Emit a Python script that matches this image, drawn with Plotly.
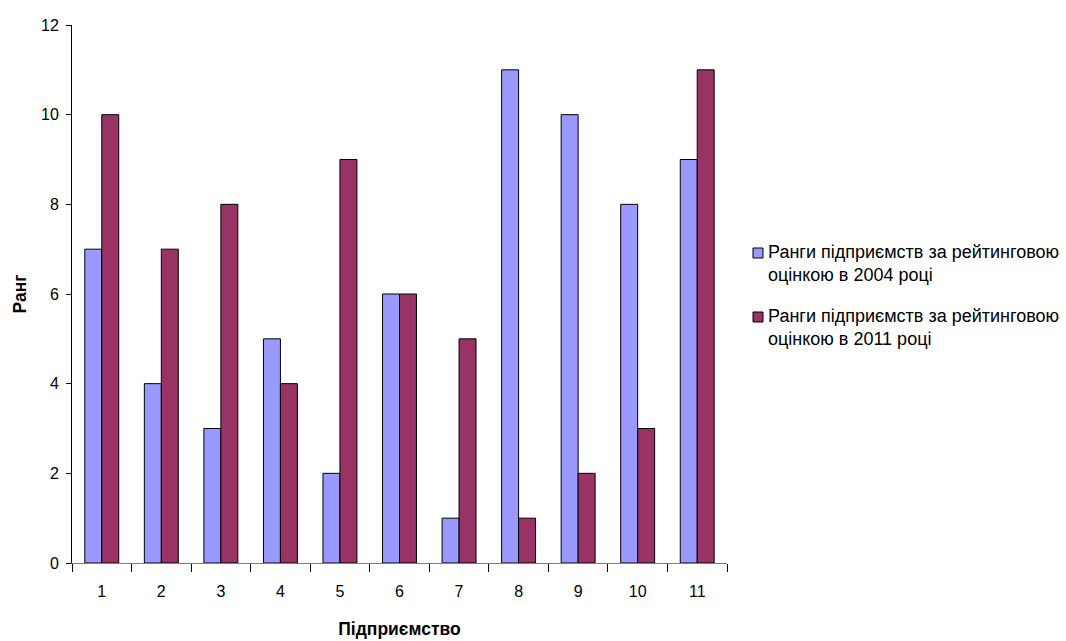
import plotly.graph_objects as go

enterprises = ["1", "2", "3", "4", "5", "6", "7", "8", "9", "10", "11"]
rank_2004 = [7, 4, 3, 5, 2, 6, 1, 11, 10, 8, 9]
rank_2011 = [10, 7, 8, 4, 9, 6, 5, 1, 2, 3, 11]

name_2004 = "Ранги підприємств за рейтинговою<br>оцінкою в 2004 році"
name_2011 = "Ранги підприємств за рейтинговою<br>оцінкою в 2011 році"

colors = ["#9999FF", "#993366"]
FONT = "Liberation Sans, Arial, sans-serif"

W, H = 1066, 641
ML, MR, MT, MB = 72, 339, 25, 78
PW, PH = W - ML - MR, H - MT - MB


def px_x(x):
    return (x - ML) / PW


def px_y(y):
    return (H - MB - y) / PH


fig = go.Figure()
for vals, name, col in [(rank_2004, name_2004, colors[0]), (rank_2011, name_2011, colors[1])]:
    fig.add_trace(go.Bar(
        x=enterprises, y=vals, name=name, showlegend=False,
        marker=dict(color=col, line=dict(color="#000000", width=1)),
    ))

# Legend drawn as boxes + wrapped labels to the right of the plot
shapes, annotations = [], []
for i, (name, col) in enumerate(zip([name_2004, name_2011], colors)):
    cy = 253 + 64 * i
    shapes.append(dict(
        type="rect", xref="paper", yref="paper",
        x0=px_x(753), x1=px_x(763), y0=px_y(cy + 5), y1=px_y(cy - 5),
        fillcolor=col, line=dict(color="#000000", width=1),
    ))
    annotations.append(dict(
        xref="paper", yref="paper", x=px_x(766), y=px_y(cy - 13),
        xanchor="left", yanchor="top", align="left", showarrow=False,
        text=name, font=dict(family=FONT, size=18, color="#000000"),
    ))

fig.update_layout(
    width=W, height=H,
    margin=dict(l=ML, r=MR, t=MT, b=MB),
    paper_bgcolor="white", plot_bgcolor="white",
    font=dict(family=FONT, size=16, color="#000000"),
    barmode="group", bargap=0.43, bargroupgap=0,
    showlegend=False,
    shapes=shapes, annotations=annotations,
    xaxis=dict(
        type="category", range=[-0.5, 10.5], automargin=False,
        showline=True, linecolor="#808080", linewidth=1,
        ticks="outside", tickson="boundaries", ticklen=8,
        tickcolor="#000000", tickwidth=1,
        ticklabelstandoff=14,
        showgrid=False, zeroline=False,
        title=dict(text="<b>Підприємство</b>", font=dict(size=17.5), standoff=23),
    ),
    yaxis=dict(
        range=[0, 12], dtick=2, automargin=False,
        showline=True, linecolor="#000000", linewidth=1,
        ticks="outside", ticklen=5, tickcolor="#000000",
        ticklabelstandoff=4,
        showgrid=False, zeroline=False,
        title=dict(text="<b>Ранг</b>", font=dict(size=17.5), standoff=9),
    ),
)

fig.write_html("out.html")
